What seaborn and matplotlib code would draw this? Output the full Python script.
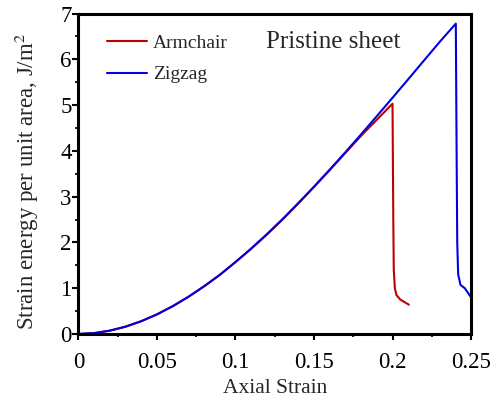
import numpy as np
import pandas as pd
import matplotlib
matplotlib.use("Agg")
import matplotlib.pyplot as plt
import seaborn as sns
from matplotlib.ticker import MultipleLocator
from matplotlib.lines import Line2D

sns.set_theme(style="white")
plt.rcParams['font.family'] = ['Liberation Serif', 'DejaVu Serif']
plt.rcParams['mathtext.fontset'] = 'stix'

series_names = ["Armchair", "Zigzag"]
colors = ["#C00000", "#0000E0"]

strain_armchair = [0, 0.01, 0.02, 0.03, 0.04, 0.05, 0.06, 0.07, 0.08, 0.09, 0.10,
                   0.11, 0.12, 0.13, 0.14, 0.15, 0.16, 0.17, 0.18, 0.19, 0.2,
                   0.2005, 0.2008, 0.2015, 0.2025, 0.205, 0.2104]
energy_armchair = [0, 0.018, 0.072, 0.159, 0.278, 0.427, 0.605, 0.81, 1.04, 1.29, 1.57,
                   1.86, 2.17, 2.50, 2.85, 3.21, 3.58, 3.955, 4.33, 4.68, 5.03,
                   2.50, 1.40, 1.00, 0.85, 0.75, 0.64]

strain_zigzag = [0, 0.01, 0.02, 0.03, 0.04, 0.05, 0.06, 0.07, 0.08, 0.09, 0.10,
                 0.11, 0.12, 0.13, 0.14, 0.15, 0.16, 0.17, 0.18, 0.19, 0.20,
                 0.21, 0.22, 0.23, 0.2403, 0.2408, 0.2412, 0.2418, 0.2433, 0.246, 0.25]
energy_zigzag = [0, 0.018, 0.072, 0.159, 0.278, 0.427, 0.605, 0.81, 1.04, 1.29, 1.57,
                 1.866, 2.18, 2.51, 2.858, 3.218, 3.589, 3.971, 4.361, 4.758, 5.16,
                 5.565, 5.973, 6.38, 6.78, 4.0, 2.0, 1.3, 1.07, 1.0, 0.8]

x_ticks = [0, 0.05, 0.1, 0.15, 0.2, 0.25]
x_ticklabels = ["0", "0.05", "0.1", "0.15", "0.2", "0.25"]
y_ticks = [0, 1, 2, 3, 4, 5, 6, 7]

df = pd.concat([
    pd.DataFrame({"strain": strain_armchair, "energy": energy_armchair, "type": "Armchair"}),
    pd.DataFrame({"strain": strain_zigzag, "energy": energy_zigzag, "type": "Zigzag"}),
], ignore_index=True)

fig = plt.figure(figsize=(4.99, 3.99), dpi=100)
ax = fig.add_axes([0.157, 0.163, 0.944 - 0.157, 0.966 - 0.163])

sns.lineplot(data=df, x="strain", y="energy", hue="type", hue_order=series_names,
             palette=colors, sort=False, estimator=None, units="type",
             linewidth=1.5, ax=ax, legend=False)

ax.set_xlim(0, 0.25)
ax.set_ylim(0, 7)
ax.set_xticks(x_ticks)
ax.set_xticklabels(x_ticklabels)
ax.set_yticks(y_ticks)
ax.xaxis.set_minor_locator(MultipleLocator(0.025))
ax.yaxis.set_minor_locator(MultipleLocator(0.5))
ax.tick_params(axis="both", which="major", direction="out", length=4, width=1.5,
               labelsize=16.5, colors="black", bottom=True, left=True)
ax.tick_params(axis="both", which="minor", direction="out", length=2.4, width=1.5,
               bottom=True, left=True)
ax.tick_params(axis="x", which="major", pad=9)
ax.tick_params(axis="y", which="major", pad=0.8)
for s in ax.spines.values():
    s.set_visible(True)
    s.set_color("black")
    s.set_linewidth(2.2)

ax.set_xlabel("Axial Strain", fontsize=15.5)
ax.set_ylabel("Strain energy per unit area, J/m$^2$", fontsize=16.5)
ax.xaxis.set_label_coords(0.5, -0.141)
ax.yaxis.set_label_coords(-0.095, 0.477)

handles = [Line2D([], [], color=c, lw=1.5) for c in colors]
ax.legend(handles, series_names, loc="upper left", bbox_to_anchor=(0.0285, 0.99),
          frameon=False, fontsize=14, handlelength=2.05, handletextpad=0.3,
          labelspacing=0.72)
ax.text(0.477, 0.912, "Pristine sheet", transform=ax.transAxes, fontsize=18,
        ha="left", va="center")

fig.savefig("out.png", dpi=100)
